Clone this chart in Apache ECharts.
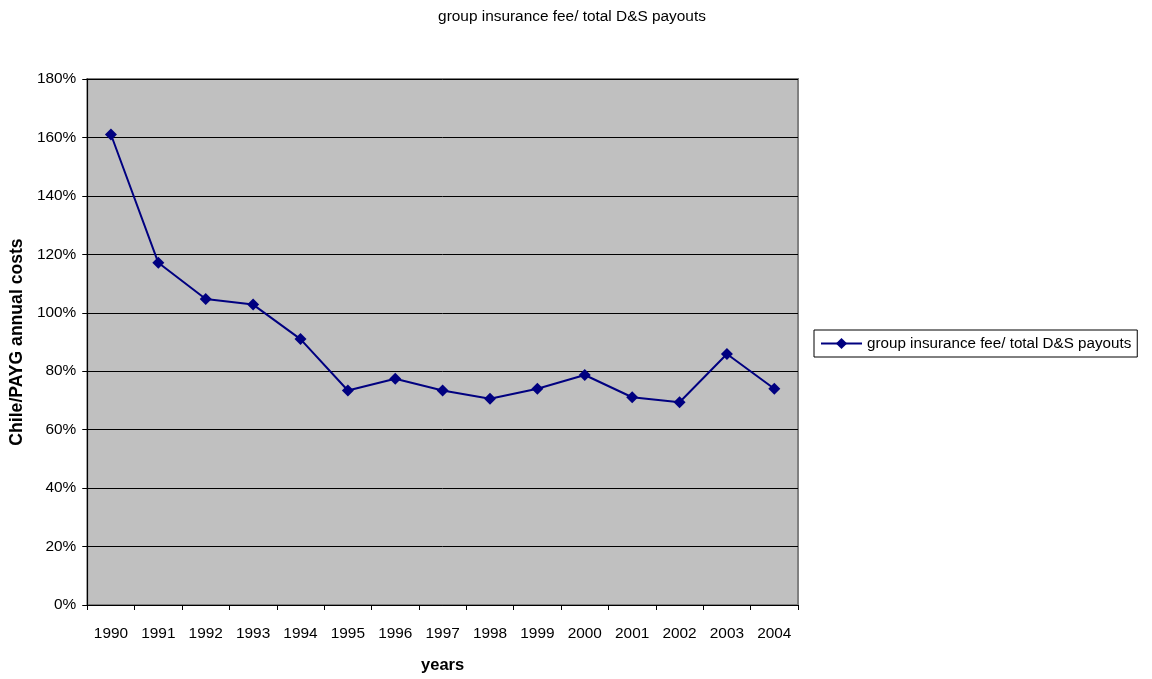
<!DOCTYPE html>
<html>
<head>
<meta charset="utf-8">
<script src="https://cdn.jsdelivr.net/npm/echarts@6/dist/echarts.min.js"></script>
<style>
  html, body { margin: 0; padding: 0; background: #ffffff; }
  #chart { width: 1152px; height: 679px; }
</style>
</head>
<body>
<div id="chart"></div>
<script>
// Years on the category axis
const years = ['1990', '1991', '1992', '1993', '1994', '1995', '1996', '1997',
               '1998', '1999', '2000', '2001', '2002', '2003', '2004'];
// Group insurance fee as a share of total D&S payouts (percent)
const ratioPct = [161.0, 117.1, 104.7, 102.8, 91.0, 73.4, 77.4, 73.4,
                  70.6, 74.0, 78.7, 71.1, 69.4, 85.9, 74.0];
const seriesName = 'group insurance fee/ total D&S payouts';
const yTicks = { min: 0, max: 180, step: 20 };

const font = 'Liberation Sans, Arial, sans-serif';
const textSize = 15.4;
const nameSize = 16.5;
const chart = echarts.init(document.getElementById('chart'), null, { renderer: 'canvas' });

chart.setOption({
  animation: false,
  backgroundColor: '#ffffff',
  title: {
    text: seriesName,
    left: 567,
    top: 4,
    textAlign: 'center',
    textStyle: { fontFamily: font, fontSize: textSize, fontWeight: 'normal', color: '#000' }
  },
  legend: {
    left: 814,
    top: 330,
    padding: [6, 6, 6, 6],
    itemWidth: 41,
    itemHeight: 14,
    borderColor: '#000',
    borderWidth: 1,
    backgroundColor: '#fff',
    textStyle: { fontFamily: font, fontSize: 15.2, color: '#000' },
    data: [seriesName]
  },
  grid: {
    left: 86, right: 354, top: 79, bottom: 70,
    show: true,
    backgroundColor: '#c0c0c0',
    borderColor: '#808080',
    borderWidth: 2
  },
  xAxis: {
    type: 'category',
    data: years,
    boundaryGap: true,
    name: 'years',
    nameLocation: 'middle',
    nameGap: 52,
    nameTextStyle: { fontFamily: font, fontSize: nameSize, fontWeight: 'bold', color: '#000' },
    axisLine: { lineStyle: { color: '#000', width: 1 } },
    axisTick: { show: true, interval: 0, length: 5, lineStyle: { color: '#000' } },
    axisLabel: { interval: 0, margin: 21, fontFamily: font, fontSize: textSize, color: '#000' },
    splitLine: { show: false }
  },
  yAxis: {
    type: 'value',
    min: yTicks.min,
    max: yTicks.max,
    interval: yTicks.step,
    name: 'Chile/PAYG annual costs',
    nameLocation: 'middle',
    nameRotate: 90,
    nameGap: 58,
    nameTextStyle: { fontFamily: font, fontSize: 17.6, fontWeight: 'bold', color: '#000' },
    axisLine: { show: true, lineStyle: { color: '#000', width: 1 } },
    axisTick: { show: true, length: 5, lineStyle: { color: '#000' } },
    axisLabel: { margin: 11, fontFamily: font, fontSize: textSize, color: '#000', formatter: '{value}%' },
    splitLine: { show: true, lineStyle: { color: '#000', width: 1 } }
  },
  series: [{
    name: seriesName,
    type: 'line',
    data: ratioPct,
    symbol: 'diamond',
    symbolSize: 12,
    lineStyle: { color: '#000080', width: 2 },
    itemStyle: { color: '#000080' }
  }]
});
</script>
</body>
</html>
